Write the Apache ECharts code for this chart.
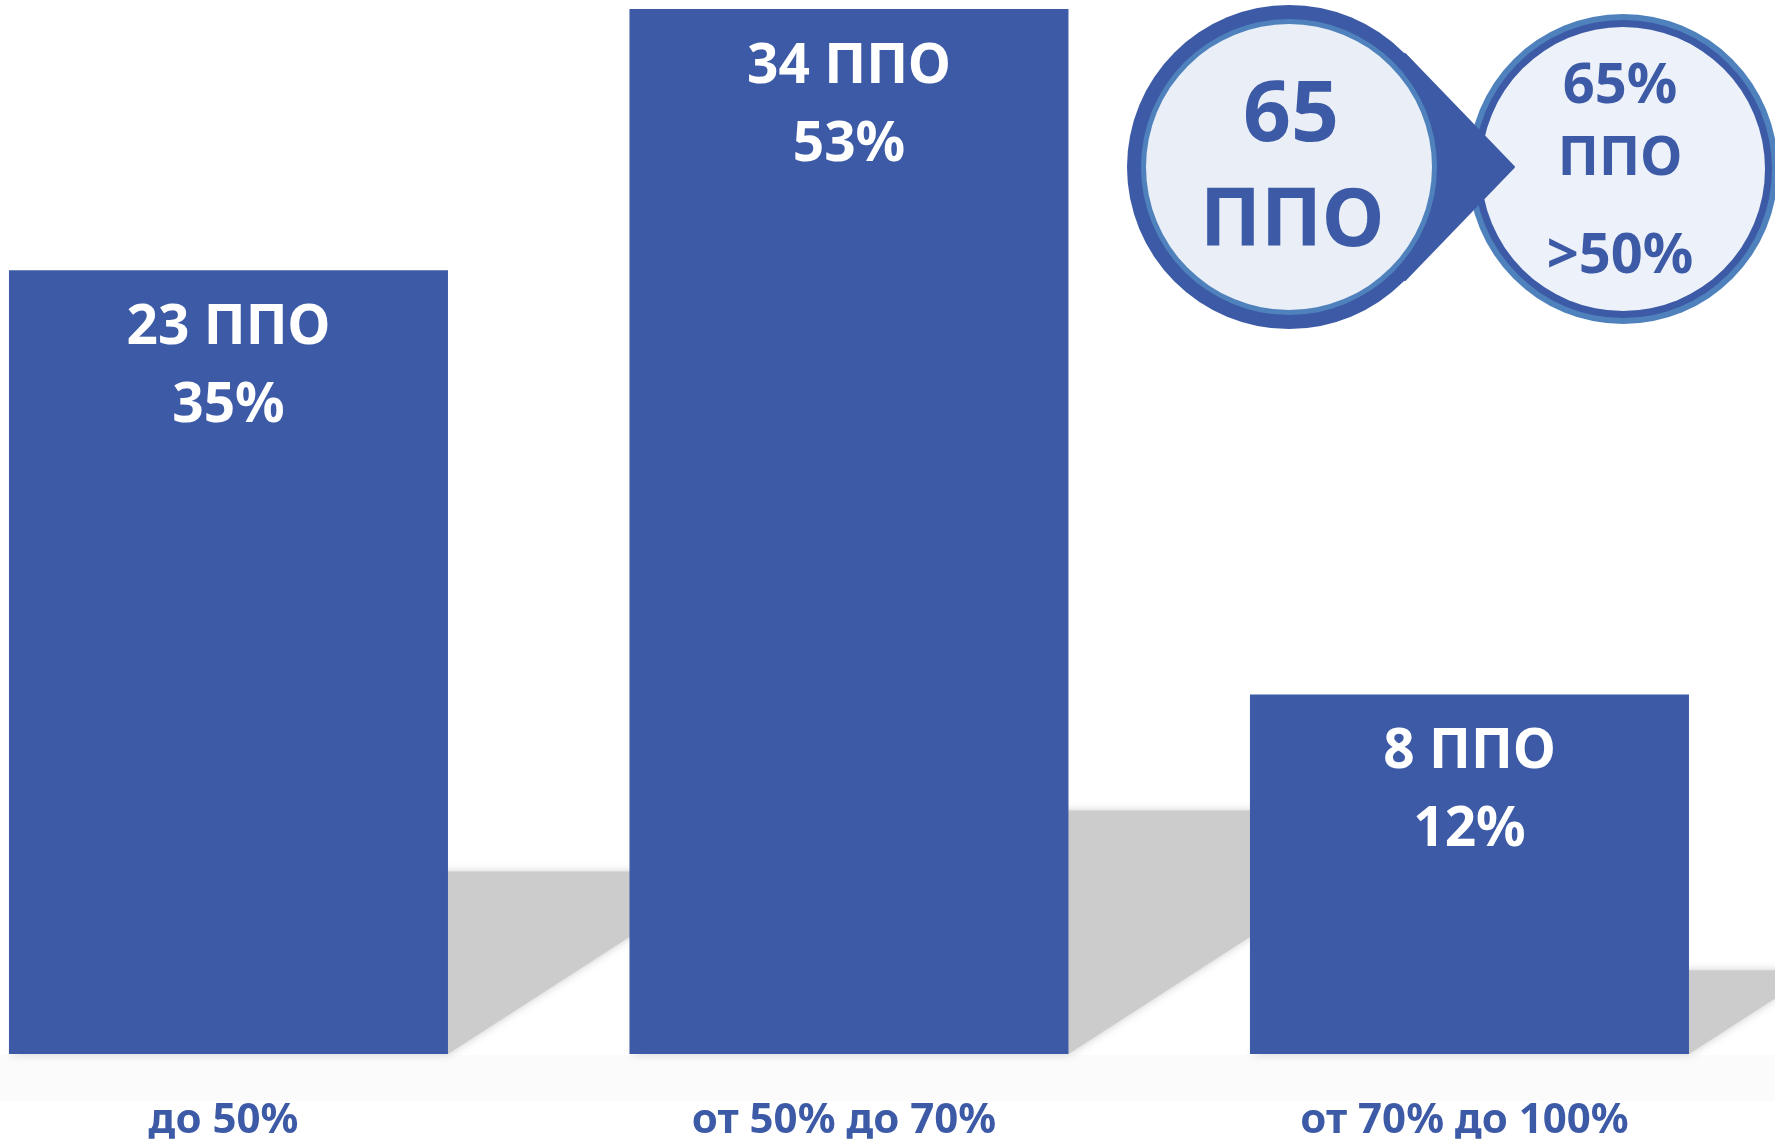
<!DOCTYPE html>
<html>
<head>
<meta charset="utf-8">
<script src="https://cdn.jsdelivr.net/npm/echarts@6/dist/echarts.min.js"></script>
<style>
html,body{margin:0;padding:0;background:#fff;}
#chart{width:1775px;height:1139px;}
</style>
</head>
<body>
<div id="chart"></div>
<script>
// ---- data ----
var categories = ['до 50%', 'от 50% до 70%', 'от 70% до 100%'];
var ppoCounts = [23, 34, 8];          // number of ППО in each group
var ppoShares = [35, 53, 12];         // share of ППО, %
// drawn bar heights (% of the tallest bar)
var barHeights = [75, 100, 34.4];
var unitLabel = 'ППО';

var totalPPO = ppoCounts.reduce(function (a, b) { return a + b; }, 0);      // 65
var shareAbove50 = ppoShares[1] + ppoShares[2];                              // 65

var BLUE = '#3c5aa5';
var LIGHT_RING = '#4f81bd';
var FONT = '"Noto Sans", "Open Sans", sans-serif';

var chart = echarts.init(document.getElementById('chart'));

var barData = barHeights.map(function (h, i) { return [i, h]; });
var labelData = categories.map(function (c, i) { return [i, 0]; });

var BAR_W = 439;

var option = {
  animation: false,
  backgroundColor: '#ffffff',
  grid: { left: 0, right: 0, top: 9, bottom: 85, containLabel: false },
  xAxis: {
    type: 'value',
    min: -0.3682,
    max: 2.4924,
    show: false,
    splitLine: { show: false }
  },
  yAxis: {
    type: 'value',
    min: 0,
    max: 100,
    show: false,
    splitLine: { show: false }
  },
  series: [
    {
      type: 'custom',
      z: 1,
      clip: false,
      data: barData,
      renderItem: function (params, api) {
        var idx = api.value(0);
        var val = api.value(1);
        var top = api.coord([idx, val]);
        var base = api.coord([idx, 0]);
        var xL = base[0] - BAR_W / 2, xR = base[0] + BAR_W / 2;
        var hs = (base[1] - top[1]) * 0.233;
        var skew = hs * 1.55;
        return {
          type: 'polygon',
          shape: {
            points: [
              [xL, base[1]], [xR, base[1]],
              [xR + skew, base[1] - hs], [xL + skew, base[1] - hs]
            ]
          },
          style: {
            fill: '#cccccc',
            shadowBlur: 8,
            shadowColor: 'rgba(200,200,200,0.9)'
          }
        };
      }
    },
    {
      type: 'bar',
      z: 3,
      data: barData,
      barWidth: BAR_W,
      itemStyle: { color: BLUE },
      label: {
        show: true,
        position: 'insideTop',
        distance: 18,
        formatter: function (p) {
          return '{a|' + ppoCounts[p.dataIndex] + ' ' + unitLabel + '}\n{b|' + ppoShares[p.dataIndex] + '%}';
        },
        rich: {
          a: { color: '#fff', fontFamily: FONT, fontWeight: 'bold', fontSize: 55, lineHeight: 80 },
          b: { color: '#fff', fontFamily: FONT, fontWeight: 'bold', fontSize: 55, lineHeight: 76 }
        }
      }
    },
    {
      // category labels under the bars
      type: 'custom',
      z: 4,
      clip: false,
      data: labelData,
      renderItem: function (params, api) {
        var idx = api.value(0);
        var base = api.coord([idx, 0]);
        return {
          type: 'text',
          x: base[0] - 5,
          y: base[1] + 67,
          style: {
            text: categories[params.dataIndex],
            fill: BLUE,
            font: 'bold 42px ' + FONT,
            align: 'center',
            verticalAlign: 'middle'
          }
        };
      }
    }
  ],
  graphic: [
    // faint floor band under the bars
    { type: 'rect', z: 0, shape: { x: 0, y: 1055, width: 1775, height: 46 }, style: { fill: '#fbfbfb' } },
    // right circle
    { type: 'circle', z: 10, shape: { cx: 1623, cy: 169, r: 155 }, style: { fill: LIGHT_RING } },
    { type: 'circle', z: 10, shape: { cx: 1623, cy: 169, r: 149 }, style: { fill: BLUE } },
    { type: 'circle', z: 10, shape: { cx: 1623, cy: 169, r: 142 }, style: { fill: '#edf1f9' } },
    // left bubble (circle + pointer)
    { type: 'polygon', z: 11, shape: { points: [[1514, 167], [1405, 54], [1289, 167], [1405, 280]] }, style: { fill: BLUE, lineJoin: 'round', stroke: BLUE, lineWidth: 2 } },
    { type: 'circle', z: 11, shape: { cx: 1289, cy: 167, r: 162 }, style: { fill: BLUE } },
    { type: 'circle', z: 12, shape: { cx: 1289, cy: 167, r: 148 }, style: { fill: LIGHT_RING } },
    { type: 'circle', z: 12, shape: { cx: 1289, cy: 167, r: 143 }, style: { fill: '#e9eef7' } },
    { type: 'text', z: 13, x: 1291, y: 117, style: { text: String(totalPPO), fill: BLUE, font: 'bold 84px ' + FONT, align: 'center', verticalAlign: 'middle' } },
    { type: 'text', z: 13, x: 1292, y: 223, style: { text: unitLabel, fill: BLUE, font: 'bold 80px ' + FONT, align: 'center', verticalAlign: 'middle' } },
    { type: 'text', z: 13, x: 1620, y: 87, style: { text: shareAbove50 + '%', fill: BLUE, font: 'bold 56px ' + FONT, align: 'center', verticalAlign: 'middle' } },
    { type: 'text', z: 13, x: 1620, y: 160, style: { text: unitLabel, fill: BLUE, font: 'bold 54px ' + FONT, align: 'center', verticalAlign: 'middle' } },
    { type: 'text', z: 13, x: 1620, y: 257, style: { text: '>50%', fill: BLUE, font: 'bold 56px ' + FONT, align: 'center', verticalAlign: 'middle' } }
  ]
};

chart.setOption(option);
</script>
</body>
</html>
